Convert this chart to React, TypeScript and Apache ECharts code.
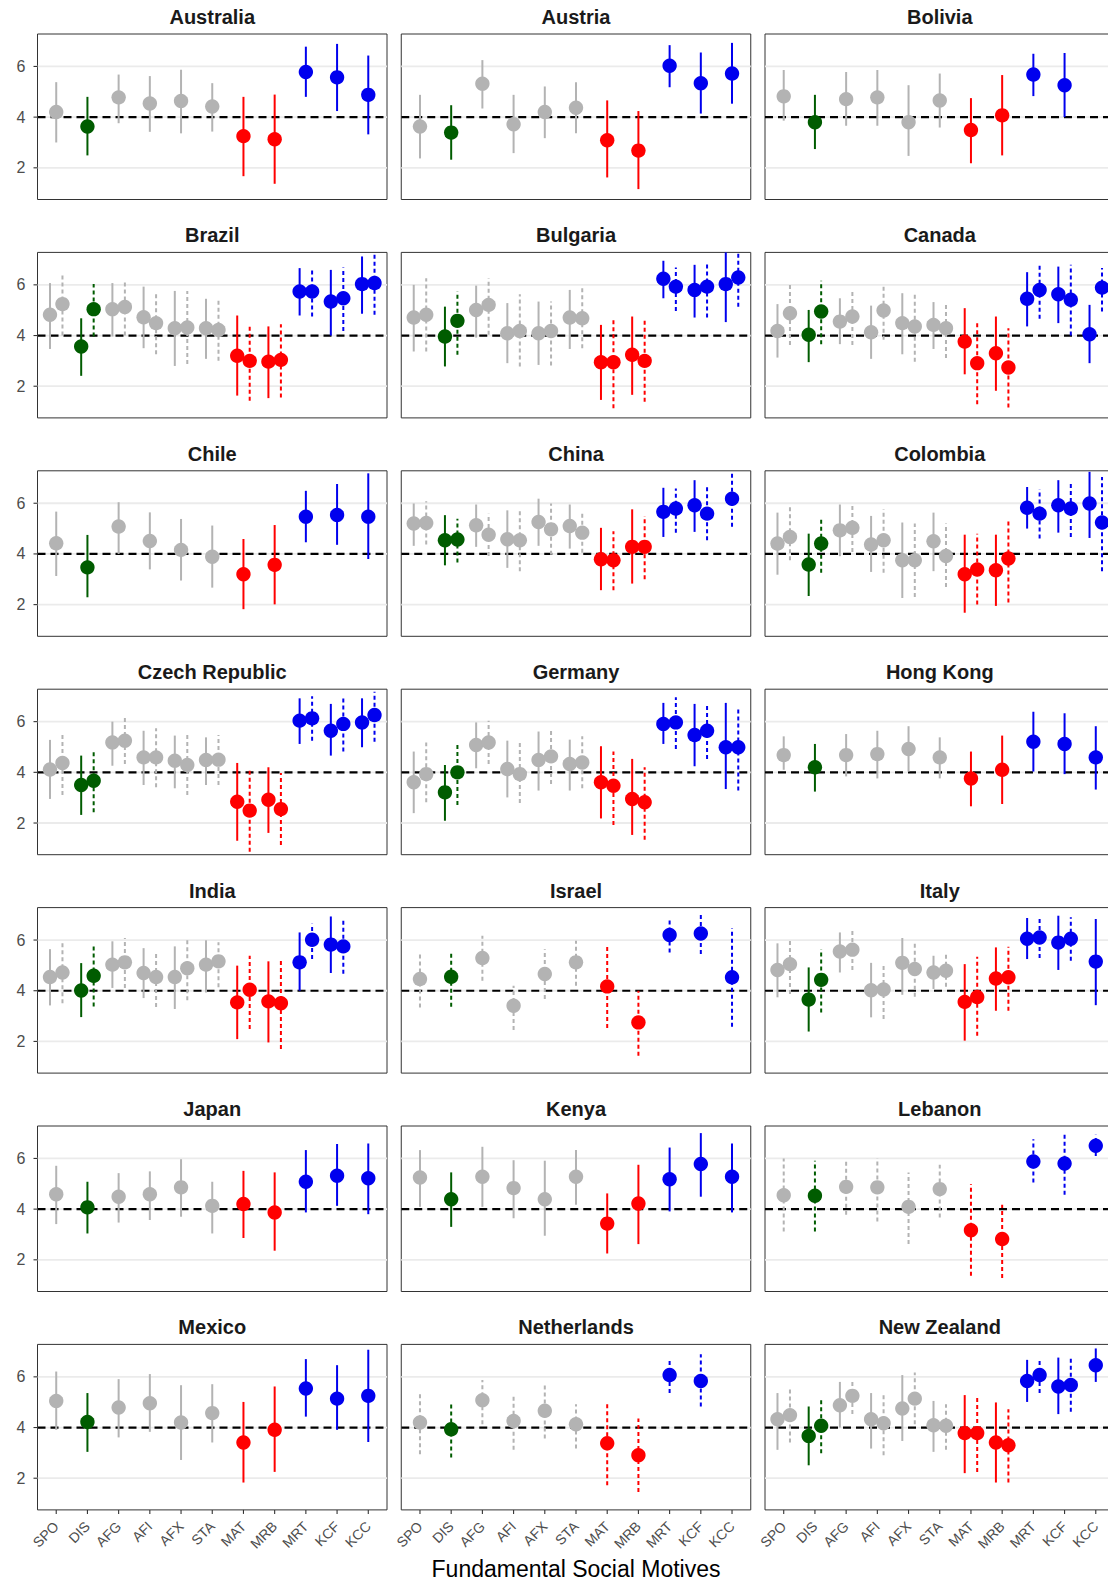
import React, { useEffect, useRef } from "react";
import * as echarts from "echarts";

type Est = [number, number, number] | null; // [estimate, lower, upper]

const MOTIVES = ["SPO", "DIS", "AFG", "AFI", "AFX", "STA", "MAT", "MRB", "MRT", "KCF", "KCC"];
const MOTIVE_KIND = ["other", "dis", "other", "other", "other", "other", "mat", "mat", "kin", "kin", "kin"];
const Y_TICKS = [2, 4, 6];
const REFERENCE_LEVEL = 4;
const X_TITLE = "Fundamental Social Motives";

const AUSTRALIA_SOLID: Est[] = [[4.20, 3.00, 5.38], [3.63, 2.49, 4.80], [4.78, 3.76, 5.68], [4.54, 3.42, 5.62], [4.64, 3.36, 5.87], [4.42, 3.43, 5.34], [3.25, 1.67, 4.80], [3.13, 1.37, 4.89], [5.78, 4.80, 6.78], [5.57, 4.24, 6.89], [4.88, 3.32, 6.43]];
const AUSTRIA_SOLID: Est[] = [[3.63, 2.37, 4.88], [3.39, 2.32, 4.47], [5.32, 4.34, 6.25], [3.72, 2.58, 4.88], [4.20, 3.17, 5.21], [4.37, 3.36, 5.38], [3.09, 1.62, 4.66], [2.68, 1.16, 4.24], [6.03, 5.18, 6.84], [5.34, 4.14, 6.55], [5.72, 4.53, 6.93]];
const BOLIVIA_SOLID: Est[] = [[4.82, 3.86, 5.86], [3.80, 2.74, 4.88], [4.71, 3.66, 5.78], [4.78, 3.66, 5.86], [3.80, 2.47, 5.26], [4.66, 3.59, 5.72], [3.49, 2.18, 4.75], [4.07, 2.49, 5.66], [5.68, 4.83, 6.50], [5.26, 4.00, 6.53], null];
const BRAZIL_SOLID: Est[] = [[4.82, 3.47, 6.07], [3.57, 2.41, 4.68], [5.04, 3.96, 6.07], [4.72, 3.50, 5.93], [4.29, 2.80, 5.76], [4.29, 3.08, 5.45], [3.20, 1.63, 4.79], [2.97, 1.53, 4.36], [5.74, 4.79, 6.66], [5.34, 4.00, 6.59], [6.03, 4.86, 7.12]];
const BRAZIL_DASHED: Est[] = [[5.24, 4.00, 6.42], [5.04, 3.96, 6.03], [5.13, 4.00, 6.20], [4.49, 3.26, 5.67], [4.32, 2.88, 5.76], [4.22, 3.00, 5.39], [3.00, 1.43, 4.36], [3.04, 1.55, 4.45], [5.74, 4.75, 6.68], [5.47, 4.18, 6.68], [6.07, 4.82, 7.35]];
const BULGARIA_SOLID: Est[] = [[4.71, 3.37, 6.00], [3.96, 2.78, 5.14], [5.01, 3.92, 5.97], [4.09, 2.91, 5.28], [4.09, 2.84, 5.34], [4.71, 3.47, 5.80], [2.95, 1.46, 4.42], [3.24, 1.66, 4.75], [6.24, 5.47, 6.95], [5.80, 4.71, 6.79], [6.03, 4.53, 7.40]];
const BULGARIA_DASHED: Est[] = [[4.82, 3.37, 6.26], [4.58, 3.24, 5.74], [5.21, 4.03, 6.26], [4.18, 2.78, 5.63], [4.18, 2.82, 5.34], [4.68, 3.50, 5.89], [2.95, 1.13, 4.66], [3.00, 1.39, 4.62], [5.93, 4.97, 6.68], [5.93, 4.71, 6.86], [6.29, 5.14, 7.40]];
const CANADA_SOLID: Est[] = [[4.18, 3.13, 5.24], [4.03, 2.95, 5.01], [4.55, 3.66, 5.47], [4.13, 3.08, 5.18], [4.49, 3.26, 5.67], [4.42, 3.47, 5.32], [3.76, 2.47, 5.08], [3.30, 1.82, 4.75], [5.45, 4.36, 6.50], [5.63, 4.49, 6.72], [4.05, 2.91, 5.21]];
const CANADA_DASHED: Est[] = [[4.88, 3.63, 6.10], [4.95, 3.66, 6.16], [4.75, 3.63, 5.74], [4.99, 3.83, 5.93], [4.36, 2.97, 5.67], [4.29, 3.11, 5.21], [2.91, 1.29, 4.53], [2.74, 1.16, 4.29], [5.80, 4.66, 6.79], [5.41, 4.00, 6.79], [5.89, 4.95, 6.66]];
const CHILE_SOLID: Est[] = [[4.42, 3.13, 5.67], [3.47, 2.29, 4.75], [5.08, 4.00, 6.04], [4.51, 3.39, 5.64], [4.16, 2.95, 5.38], [3.89, 2.67, 5.12], [3.20, 1.82, 4.59], [3.57, 2.01, 5.14], [5.47, 4.46, 6.49], [5.54, 4.36, 6.76], [5.47, 3.80, 7.18]];
const CHINA_SOLID: Est[] = [[5.20, 4.32, 5.99], [4.54, 3.55, 5.53], [5.13, 4.28, 5.95], [4.58, 3.45, 5.72], [5.26, 4.32, 6.18], [5.10, 4.21, 5.95], [3.79, 2.57, 5.03], [4.28, 2.83, 5.76], [5.66, 4.67, 6.61], [5.92, 4.87, 6.91], null];
const CHINA_DASHED: Est[] = [[5.22, 4.37, 6.08], [4.57, 3.66, 5.39], [4.76, 3.92, 5.59], [4.54, 3.32, 5.68], [4.97, 3.97, 5.99], [4.84, 4.05, 5.68], [3.75, 2.57, 4.89], [4.28, 3.00, 5.50], [5.79, 4.84, 6.58], [5.59, 4.54, 6.64], [6.18, 5.07, 7.21]];
const COLOMBIA_SOLID: Est[] = [[4.41, 3.18, 5.63], [3.58, 2.34, 4.80], [4.93, 3.91, 5.95], [4.37, 3.29, 5.50], [3.75, 2.26, 5.24], [4.50, 3.32, 5.63], [3.20, 1.68, 4.76], [3.36, 1.95, 4.76], [5.82, 5.00, 6.64], [5.92, 4.84, 6.91], [5.99, 4.63, 7.24]];
const COLOMBIA_DASHED: Est[] = [[4.67, 3.75, 5.92], [4.41, 3.26, 5.37], [5.03, 4.08, 5.99], [4.54, 3.26, 5.76], [3.75, 2.30, 5.20], [3.92, 2.70, 5.20], [3.39, 2.00, 4.80], [3.82, 2.08, 5.37], [5.59, 4.61, 6.55], [5.79, 4.67, 6.82], [5.24, 3.32, 7.04]];
const CZECH_SOLID: Est[] = [[4.11, 2.95, 5.28], [3.50, 2.32, 4.66], [5.18, 4.26, 6.00], [4.59, 3.50, 5.64], [4.46, 3.37, 5.45], [4.49, 3.50, 5.38], [2.84, 1.30, 4.37], [2.92, 1.61, 4.20], [6.04, 5.12, 6.92], [5.64, 4.66, 6.70], [5.97, 4.99, 6.92]];
const CZECH_DASHED: Est[] = [[4.37, 3.11, 5.58], [3.67, 2.42, 4.88], [5.25, 4.33, 6.21], [4.59, 3.41, 5.74], [4.29, 3.11, 5.51], [4.50, 3.50, 5.47], [2.49, 0.87, 4.10], [2.55, 1.13, 3.97], [6.13, 5.25, 7.00], [5.91, 4.82, 6.92], [6.26, 5.21, 7.18]];
const GERMANY_SOLID: Est[] = [[3.61, 2.39, 4.82], [3.21, 2.09, 4.29], [5.08, 4.16, 5.97], [4.13, 3.01, 5.25], [4.49, 3.28, 5.61], [4.33, 3.28, 5.29], [3.61, 2.18, 5.03], [2.95, 1.53, 4.53], [5.91, 5.12, 6.74], [5.47, 4.24, 6.70], [4.99, 3.34, 6.74]];
const GERMANY_DASHED: Est[] = [[3.93, 2.82, 5.18], [4.00, 2.71, 5.18], [5.18, 4.33, 6.04], [3.93, 2.79, 5.18], [4.63, 3.54, 5.64], [4.39, 3.37, 5.42], [3.47, 1.92, 4.82], [2.82, 1.34, 4.20], [5.97, 4.92, 6.96], [5.64, 4.53, 6.66], [4.99, 3.28, 6.57]];
const HONGKONG_SOLID: Est[] = [[4.68, 4.10, 5.42], [4.20, 3.24, 5.12], [4.68, 3.84, 5.51], [4.72, 3.76, 5.64], [4.92, 4.03, 5.82], [4.59, 3.76, 5.38], [3.76, 2.66, 4.82], [4.10, 2.75, 5.45], [5.21, 4.03, 6.39], [5.12, 3.93, 6.33], [4.59, 3.32, 5.82]];
const INDIA_SOLID: Est[] = [[4.54, 3.42, 5.64], [4.01, 2.96, 5.09], [5.03, 4.11, 5.95], [4.70, 3.71, 5.68], [4.54, 3.28, 5.75], [5.03, 3.93, 5.99], [3.54, 2.09, 4.99], [3.58, 1.96, 5.16], [5.12, 4.00, 6.30], [5.82, 4.70, 6.93], null];
const INDIA_DASHED: Est[] = [[4.72, 3.51, 5.88], [4.59, 3.38, 5.75], [5.12, 4.11, 6.08], [4.54, 3.36, 5.51], [4.89, 3.62, 6.04], [5.16, 4.14, 5.91], [4.04, 2.49, 5.38], [3.51, 1.70, 5.25], [6.01, 5.25, 6.64], [5.75, 4.67, 6.80], null];
const ISRAEL_DASHED: Est[] = [[4.46, 3.34, 5.51], [4.55, 3.37, 5.55], [5.29, 4.39, 6.17], [3.41, 2.45, 4.20], [4.66, 3.67, 5.64], [5.12, 4.20, 5.97], [4.17, 2.53, 5.78], [2.75, 1.43, 4.00], [6.20, 5.51, 6.83], [6.26, 5.45, 7.05], [4.53, 2.58, 6.47]];
const ITALY_SOLID: Est[] = [[4.82, 3.74, 5.87], [3.65, 2.39, 4.92], [5.55, 4.72, 6.30], [4.02, 2.95, 5.10], [5.10, 3.84, 6.08], [4.72, 4.07, 5.38], [3.56, 2.03, 5.05], [4.48, 3.21, 5.71], [6.05, 5.25, 6.87], [5.90, 4.82, 6.96], [5.15, 3.43, 6.83]];
const ITALY_DASHED: Est[] = [[5.05, 3.87, 6.08], [4.43, 3.14, 5.64], [5.62, 4.82, 6.39], [4.05, 2.88, 5.00], [4.86, 3.76, 5.87], [4.79, 4.16, 5.45], [3.75, 2.22, 5.34], [4.53, 3.21, 5.74], [6.10, 5.29, 6.90], [6.05, 5.18, 6.90], null];
const JAPAN_SOLID: Est[] = [[4.59, 3.41, 5.71], [4.07, 3.04, 5.08], [4.49, 3.47, 5.42], [4.59, 3.57, 5.49], [4.86, 3.70, 5.97], [4.13, 3.04, 5.08], [4.20, 2.86, 5.51], [3.87, 2.36, 5.45], [5.08, 3.87, 6.33], [5.32, 4.13, 6.57], [5.22, 3.80, 6.59]];
const KENYA_SOLID: Est[] = [[5.25, 4.09, 6.33], [4.39, 3.30, 5.45], [5.28, 4.09, 6.46], [4.83, 3.64, 5.93], [4.39, 2.95, 5.91], [5.28, 4.17, 6.33], [3.43, 2.25, 4.62], [4.22, 2.62, 5.75], [5.18, 3.91, 6.43], [5.78, 4.49, 7.00], [5.28, 3.87, 6.59]];
const LEBANON_DASHED: Est[] = [[4.55, 3.12, 6.00], [4.53, 3.12, 5.91], [4.88, 3.78, 5.88], [4.86, 3.51, 6.01], [4.09, 2.62, 5.45], [4.79, 3.67, 5.75], [3.17, 1.37, 4.99], [2.82, 1.28, 4.17], [5.88, 5.05, 6.76], [5.80, 4.57, 6.99], [6.50, 6.10, 6.93]];
const MEXICO_SOLID: Est[] = [[5.05, 3.91, 6.21], [4.22, 3.04, 5.36], [4.79, 3.61, 5.91], [4.96, 3.83, 6.11], [4.20, 2.72, 5.67], [4.57, 3.41, 5.71], [3.41, 1.83, 5.01], [3.91, 2.25, 5.62], [5.54, 4.43, 6.70], [5.14, 3.91, 6.46], [5.25, 3.43, 7.07]];
const NETHERLANDS_DASHED: Est[] = [[4.20, 2.95, 5.38], [3.93, 2.82, 4.96], [5.08, 4.13, 5.88], [4.26, 3.12, 5.25], [4.66, 3.57, 5.71], [4.13, 3.17, 4.92], [3.38, 1.72, 5.01], [2.91, 1.46, 4.36], [6.07, 5.36, 6.70], [5.84, 4.83, 6.89], null];
const NEWZEALAND_SOLID: Est[] = [[4.33, 3.12, 5.36], [3.67, 2.51, 4.83], [4.88, 4.00, 5.80], [4.33, 3.17, 5.36], [4.75, 3.47, 6.07], [4.09, 3.04, 5.05], [3.78, 2.20, 5.28], [3.41, 1.83, 4.99], [5.84, 5.01, 6.67], [5.62, 4.53, 6.76], [6.46, 5.80, 7.12]];
const NEWZEALAND_DASHED: Est[] = [[4.49, 3.41, 5.51], [4.07, 2.99, 5.09], [5.25, 4.53, 5.84], [4.17, 2.91, 5.36], [5.14, 4.13, 6.17], [4.07, 3.12, 4.92], [3.78, 2.25, 5.18], [3.30, 1.83, 4.72], [6.07, 5.36, 6.70], [5.68, 4.62, 6.76], null];

const COUNTRIES: { name: string; solid: Est[] | null; dashed: Est[] | null }[] = [
  { name: "Australia", solid: AUSTRALIA_SOLID, dashed: null },
  { name: "Austria", solid: AUSTRIA_SOLID, dashed: null },
  { name: "Bolivia", solid: BOLIVIA_SOLID, dashed: null },
  { name: "Brazil", solid: BRAZIL_SOLID, dashed: BRAZIL_DASHED },
  { name: "Bulgaria", solid: BULGARIA_SOLID, dashed: BULGARIA_DASHED },
  { name: "Canada", solid: CANADA_SOLID, dashed: CANADA_DASHED },
  { name: "Chile", solid: CHILE_SOLID, dashed: null },
  { name: "China", solid: CHINA_SOLID, dashed: CHINA_DASHED },
  { name: "Colombia", solid: COLOMBIA_SOLID, dashed: COLOMBIA_DASHED },
  { name: "Czech Republic", solid: CZECH_SOLID, dashed: CZECH_DASHED },
  { name: "Germany", solid: GERMANY_SOLID, dashed: GERMANY_DASHED },
  { name: "Hong Kong", solid: HONGKONG_SOLID, dashed: null },
  { name: "India", solid: INDIA_SOLID, dashed: INDIA_DASHED },
  { name: "Israel", solid: null, dashed: ISRAEL_DASHED },
  { name: "Italy", solid: ITALY_SOLID, dashed: ITALY_DASHED },
  { name: "Japan", solid: JAPAN_SOLID, dashed: null },
  { name: "Kenya", solid: KENYA_SOLID, dashed: null },
  { name: "Lebanon", solid: null, dashed: LEBANON_DASHED },
  { name: "Mexico", solid: MEXICO_SOLID, dashed: null },
  { name: "Netherlands", solid: null, dashed: NETHERLANDS_DASHED },
  { name: "New Zealand", solid: NEWZEALAND_SOLID, dashed: NEWZEALAND_DASHED },
];

// ---- layout & style ----
const WIDTH = 1108;
const HEIGHT = 1580;
const NCOL = 3;
const NROW = 7;
const PANEL_LEFT0 = 37.5;
const PANEL_STEP_X = 363.75;
const PANEL_W = 349.5;
const PANEL_TOP0 = 34;
const PANEL_STEP_Y = 218.4;
const PANEL_H = 165.5;
const X_MIN = -0.6;
const X_MAX = 10.6;
const Y_MIN = 0.75;
const Y_MAX = 7.28;
const DODGE = 0.2;
const TICK_LEN = 4;
const COLORS: Record<string, string> = { other: "#B3B3B3", dis: "#005C00", mat: "#FF0000", kin: "#0000EE" };
const FONT = "'Liberation Sans', Arial, Helvetica, sans-serif";

function buildRows(c: { solid: Est[] | null; dashed: Est[] | null }) {
  const rows: number[][] = [];
  MOTIVES.forEach((_, i) => {
    const a = c.solid ? c.solid[i] : null;
    const b = c.dashed ? c.dashed[i] : null;
    const both = !!(a && b);
    if (a) rows.push([i + (both ? -DODGE : 0), a[0], a[1], a[2], i, 0]);
    if (b) rows.push([i + (both ? DODGE : 0), b[0], b[1], b[2], i, 1]);
  });
  return rows;
}

function buildOption() {
  const grids: any[] = [];
  const xAxes: any[] = [];
  const yAxes: any[] = [];
  const series: any[] = [];
  const titles: any[] = [];
  const motiveIdx = MOTIVES.map((_, i) => i);

  COUNTRIES.forEach((c, k) => {
    const col = k % NCOL;
    const row = Math.floor(k / NCOL);
    const left = PANEL_LEFT0 + col * PANEL_STEP_X;
    const top = PANEL_TOP0 + row * PANEL_STEP_Y;
    const isBottom = row === NROW - 1;
    const isLeft = col === 0;

    grids.push({
      left, top, width: PANEL_W, height: PANEL_H,
      show: true, borderColor: "#333333", borderWidth: 1, backgroundColor: "#FFFFFF",
      containLabel: false, outerBoundsMode: "none",
    });
    xAxes.push({
      gridIndex: k, type: "value", min: X_MIN, max: X_MAX,
      axisLine: { show: false }, splitLine: { show: false }, axisTick: { show: false },
      axisLabel: {
        show: isBottom, customValues: motiveIdx, rotate: 45, margin: 14,
        fontSize: 14, color: "#4D4D4D", fontFamily: FONT,
        formatter: (v: number) => MOTIVES[Math.round(v)] ?? "",
      },
    });
    yAxes.push({
      gridIndex: k, type: "value", min: Y_MIN, max: Y_MAX,
      axisLine: { show: false }, splitLine: { show: false }, axisTick: { show: false },
      axisLabel: { show: isLeft, customValues: Y_TICKS, margin: 12, fontSize: 16, color: "#4D4D4D", fontFamily: FONT },
    });
    titles.push({
      text: c.name, left: left + PANEL_W / 2, top: top - 27, textAlign: "center", padding: 0,
      textStyle: { fontSize: 20, fontWeight: "bold", color: "#1A1A1A", fontFamily: FONT },
    });

    // guides: grid lines (0), reference line (1), y ticks (2), x ticks (3)
    const guideRows: number[][] = [...Y_TICKS.map((v) => [v, 0]), [REFERENCE_LEVEL, 1]];
    if (isLeft) Y_TICKS.forEach((v) => guideRows.push([v, 2]));
    if (isBottom) motiveIdx.forEach((i) => guideRows.push([i, 3]));
    series.push({
      type: "custom", xAxisIndex: k, yAxisIndex: k, silent: true, z: 1, clip: false,
      data: guideRows,
      renderItem: (params: any, api: any) => {
        const cs = params.coordSys;
        const v = api.value(0);
        const kind = api.value(1);
        if (kind === 3) {
          const x = api.coord([v, Y_MIN])[0];
          const yb = cs.y + cs.height;
          return { type: "line", shape: { x1: x, y1: yb, x2: x, y2: yb + TICK_LEN }, style: { stroke: "#333333", lineWidth: 1.1 } };
        }
        const y = api.coord([0, v])[1];
        if (kind === 2) {
          return { type: "line", shape: { x1: cs.x - TICK_LEN, y1: y, x2: cs.x, y2: y }, style: { stroke: "#333333", lineWidth: 1.1 } };
        }
        return {
          type: "line",
          shape: { x1: cs.x, y1: y, x2: cs.x + cs.width, y2: y },
          style: kind === 1
            ? { stroke: "#000000", lineWidth: 2.2, lineDash: [8, 5] }
            : { stroke: "#EBEBEB", lineWidth: 1.8 },
        };
      },
    });

    const rows = buildRows(c);
    series.push({
      type: "custom", xAxisIndex: k, yAxisIndex: k, silent: true, z: 2,
      data: rows,
      renderItem: (params: any, api: any) => {
        const cs = params.coordSys;
        const x = api.value(0);
        const p1 = api.coord([x, api.value(2)]);
        const p2 = api.coord([x, api.value(3)]);
        const color = COLORS[MOTIVE_KIND[api.value(4)]];
        const dashed = api.value(5) === 1;
        const yBottom = Math.min(p1[1], cs.y + cs.height);
        const yTop = Math.max(p2[1], cs.y);
        const style: any = { stroke: color, lineWidth: 2 };
        if (dashed) style.lineDash = [4, 3];
        return { type: "line", shape: { x1: p1[0], y1: yBottom, x2: p2[0], y2: yTop }, style };
      },
    });
    series.push({
      type: "custom", xAxisIndex: k, yAxisIndex: k, silent: true, z: 3,
      data: rows,
      renderItem: (params: any, api: any) => {
        const p = api.coord([api.value(0), api.value(1)]);
        const color = COLORS[MOTIVE_KIND[api.value(4)]];
        return { type: "circle", shape: { cx: p[0], cy: p[1], r: 7.2 }, style: { fill: color } };
      },
    });
  });

  titles.push({
    text: X_TITLE, left: PANEL_LEFT0 + PANEL_STEP_X + PANEL_W / 2, top: 1557, textAlign: "center", padding: 0,
    textStyle: { fontSize: 23, fontWeight: "normal", color: "#000000", fontFamily: FONT },
  });

  return {
    animation: false,
    backgroundColor: "#FFFFFF",
    textStyle: { fontFamily: FONT },
    title: titles,
    grid: grids,
    xAxis: xAxes,
    yAxis: yAxes,
    series,
  };
}

export default function App() {
  const ref = useRef<HTMLDivElement | null>(null);
  useEffect(() => {
    if (!ref.current) return;
    const chart = echarts.init(ref.current, undefined, { renderer: "svg", width: WIDTH, height: HEIGHT });
    chart.setOption(buildOption() as any);
    return () => chart.dispose();
  }, []);
  return (
    <div
      ref={ref}
      style={{ position: "absolute", left: 0, top: 0, width: WIDTH, height: HEIGHT, background: "#FFFFFF", overflow: "hidden" }}
    />
  );
}
